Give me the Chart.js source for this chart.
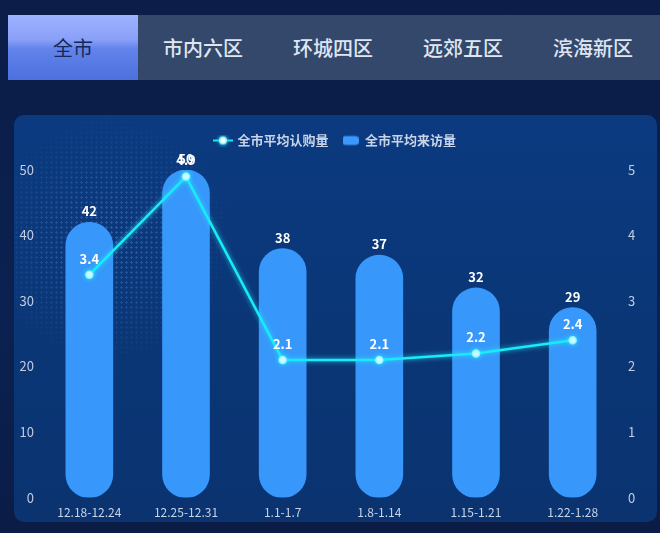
<!DOCTYPE html>
<html>
<head>
<meta charset="utf-8">
<script src="https://cdn.jsdelivr.net/npm/chart.js@4.4.1/dist/chart.umd.min.js"></script>
<style>
  html,body{margin:0;padding:0;width:660px;height:533px;overflow:hidden;background:linear-gradient(180deg,#0b1d48 0%,#0c2150 60%,#0b1c46 100%);font-family:"Noto Sans CJK SC","Noto Sans",sans-serif;}
  #tabs{position:absolute;left:8px;top:15px;width:660px;height:65px;background:#33486b;display:flex;}
  .tab{width:130px;height:65px;line-height:65px;text-align:center;font-size:20px;color:#dfe6f2;font-weight:500;}
  .tab.active{background:linear-gradient(180deg,#9db2ff 0%,#8aa0f8 38%,#6283ea 52%,#4c70df 100%);color:#16285a;font-weight:400;}
  #panel{position:absolute;left:14px;top:115px;width:643px;height:407px;border-radius:10px;background:linear-gradient(180deg,#0c3a80 0%,#0a3675 60%,#0a3370 100%);overflow:hidden;}
  #dots{position:absolute;left:-30px;top:0px;width:250px;height:250px;
    background-image:radial-gradient(circle,rgba(120,170,255,0.4) 1px,transparent 1.4px);
    background-size:5px 5px;
    -webkit-mask-image:radial-gradient(circle closest-side,rgba(0,0,0,0.8) 0%,rgba(0,0,0,0.45) 50%,rgba(0,0,0,0) 100%);
    mask-image:radial-gradient(circle closest-side,rgba(0,0,0,0.8) 0%,rgba(0,0,0,0.45) 50%,rgba(0,0,0,0) 100%);}
  #wrap{position:absolute;left:0;top:0;width:643px;height:415px;}
</style>
</head>
<body>
<div id="tabs">
  <div class="tab active">全市</div>
  <div class="tab">市内六区</div>
  <div class="tab">环城四区</div>
  <div class="tab">远郊五区</div>
  <div class="tab">滨海新区</div>
</div>
<div id="panel">
  <div id="dots"></div>
  <div id="wrap"><canvas id="c" width="643" height="415"></canvas></div>
</div>
<script>
const categories = ["12.18-12.24","12.25-12.31","1.1-1.7","1.8-1.14","1.15-1.21","1.22-1.28"];
const visitValues = [42, 50, 38, 37, 32, 29];
const subscribeValues = [3.4, 4.9, 2.1, 2.1, 2.2, 2.4];
const leftTicks = [0, 10, 20, 30, 40, 50];
const rightTicks = [0, 1, 2, 3, 4, 5];
const seriesNames = ["全市平均认购量", "全市平均来访量"];

const FONT = '"Noto Sans CJK SC","Noto Sans",sans-serif';

function lineIcon(){
  const c = document.createElement('canvas'); c.width = 20; c.height = 12;
  const x = c.getContext('2d');
  x.strokeStyle = '#1fe3f2'; x.lineWidth = 2;
  x.beginPath(); x.moveTo(0,6); x.lineTo(20,6); x.stroke();
  x.shadowColor = '#1fe3f2'; x.shadowBlur = 4;
  x.fillStyle = '#bffaff'; x.beginPath(); x.arc(10,6,4,0,Math.PI*2); x.fill();
  x.fillStyle = '#ffffff'; x.beginPath(); x.arc(10,6,2.5,0,Math.PI*2); x.fill();
  return c;
}
function barIcon(){
  const c = document.createElement('canvas'); c.width = 16; c.height = 12;
  const x = c.getContext('2d');
  x.fillStyle = '#3a98ff';
  x.beginPath(); x.roundRect(0,1.5,16,9,3); x.fill();
  return c;
}
const icons = [lineIcon(), barIcon()];

const labelPlugin = {
  id: 'valueLabels',
  afterInit(chart){
    const lg = chart.legend;
    if (lg) {
      const f = lg.fit.bind(lg);
      lg.fit = function(){ f(); this.height += 13; };
    }
  },
  beforeDatasetDraw(chart, args){
    if (args.index === 0) {
      chart.ctx.save();
      chart.ctx.shadowColor = 'rgba(40,240,255,0.8)';
      chart.ctx.shadowBlur = 5;
    }
  },
  afterDatasetDraw(chart, args){
    if (args.index === 0) chart.ctx.restore();
  },
  afterDatasetsDraw(chart){
    const ctx = chart.ctx;
    ctx.save();
    ctx.textAlign = 'center';
    ctx.textBaseline = 'middle';
    ctx.fillStyle = '#ffffff';
    ctx.font = 'bold 13px ' + FONT;
    const barMeta = chart.getDatasetMeta(1);
    barMeta.data.forEach((el, i) => {
      ctx.fillText(String(visitValues[i]), el.x, el.y - 11);
    });
    const lineMeta = chart.getDatasetMeta(0);
    lineMeta.data.forEach((el, i) => {
      ctx.fillText(subscribeValues[i].toFixed(1), el.x, el.y - 16);
    });
    ctx.restore();
  }
};

new Chart(document.getElementById('c'), {
  data: {
    labels: categories,
    datasets: [
      {
        type: 'line',
        label: seriesNames[0],
        data: subscribeValues,
        yAxisID: 'y1',
        order: 0,
        borderColor: '#16ecfa',
        borderWidth: 2.5,
        tension: 0,
        pointRadius: 3.5,
        pointBackgroundColor: '#ffffff',
        pointBorderColor: '#8ff6ff',
        pointBorderWidth: 1.5,
        pointHoverRadius: 3.5
      },
      {
        type: 'bar',
        label: seriesNames[1],
        data: visitValues,
        yAxisID: 'y',
        order: 1,
        backgroundColor: '#3797fb',
        borderRadius: 24,
        borderSkipped: false,
        barThickness: 47
      }
    ]
  },
  options: {
    responsive: false,
    animation: false,
    events: [],
    layout: { padding: { left: 0, right: 0, top: 5, bottom: 2 } },
    plugins: {
      legend: {
        display: true,
        position: 'top',
        labels: {
          color: '#c9d4e8',
          font: { family: FONT, size: 13, weight: 'bold' },
          padding: 14,
          usePointStyle: true,
          pointStyleWidth: 16,
          generateLabels(chart){
            return chart.data.datasets.map((ds, i) => ({
              text: ds.label,
              fontColor: '#c9d4e8',
              pointStyle: icons[i],
              datasetIndex: i,
              hidden: false,
              lineWidth: 0
            }));
          }
        }
      },
      tooltip: { enabled: false }
    },
    scales: {
      x: {
        grid: { display: false, drawTicks: false },
        border: { display: false },
        ticks: { color: '#c9d4e8', font: { family: FONT, size: 12 }, padding: 8, maxRotation: 0, autoSkip: false }
      },
      y: {
        position: 'left',
        min: 0, max: 50,
        afterBuildTicks(scale){ scale.ticks = leftTicks.map(v => ({ value: v })); },
        afterFit(scale){ scale.width = 27; },
        grid: { display: false, drawTicks: false },
        border: { display: false },
        ticks: { color: '#c2cde2', font: { family: FONT, size: 13 }, padding: 7 }
      },
      y1: {
        position: 'right',
        min: 0, max: 5,
        afterBuildTicks(scale){ scale.ticks = rightTicks.map(v => ({ value: v })); },
        afterFit(scale){ scale.width = 36; },
        grid: { display: false, drawTicks: false },
        border: { display: false },
        ticks: { color: '#c2cde2', font: { family: FONT, size: 13 }, padding: 7 }
      }
    }
  },
  plugins: [labelPlugin]
});
</script>
</body>
</html>
